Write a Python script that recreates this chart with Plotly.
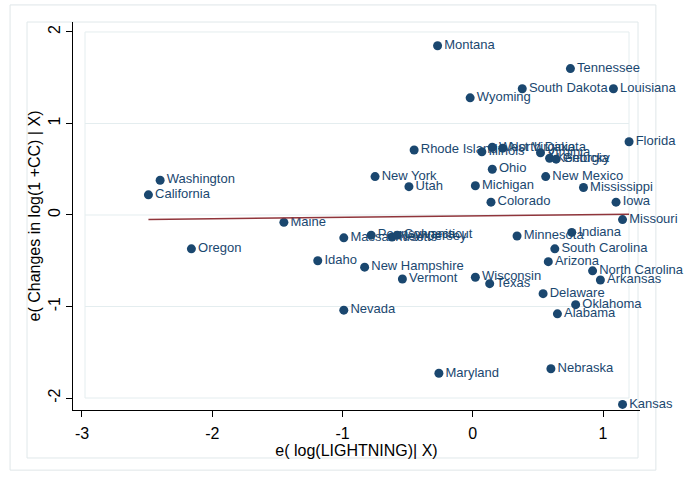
import numpy as np
import plotly.graph_objects as go

states = ["Montana", "Tennessee", "South Dakota", "Louisiana", "Wyoming", "Florida",
          "Washington", "California", "Rhode Island", "Illinois", "West Virginia",
          "North Dakota", "Virginia", "Kentucky", "Georgia", "Ohio", "New Mexico",
          "New York", "Utah", "Michigan", "Mississippi", "Iowa", "Colorado", "Maine",
          "Missouri", "Oregon", "Massachusetts", "Pennsylvania", "New Jersey",
          "Connecticut", "Minnesota", "Indiana", "South Carolina", "Arizona",
          "North Carolina", "Arkansas", "Wisconsin", "Texas", "Idaho", "New Hampshire",
          "Vermont", "Delaware", "Oklahoma", "Alabama", "Nevada", "Maryland",
          "Nebraska", "Kansas"]

x_resid = [-0.27, 0.75, 0.38, 1.08, -0.02, 1.20,
           -2.40, -2.49, -0.45, 0.07, 0.15,
           0.23, 0.52, 0.59, 0.64, 0.15, 0.56,
           -0.75, -0.49, 0.02, 0.85, 1.10, 0.14, -1.45,
           1.15, -2.16, -0.99, -0.78, -0.62,
           -0.58, 0.34, 0.76, 0.63, 0.58,
           0.92, 0.98, 0.02, 0.13, -1.19, -0.83,
           -0.54, 0.54, 0.79, 0.65, -0.99, -0.26,
           0.60, 1.15]

y_resid = [1.85, 1.60, 1.38, 1.38, 1.28, 0.80,
           0.38, 0.22, 0.71, 0.69, 0.74,
           0.73, 0.68, 0.62, 0.61, 0.50, 0.42,
           0.42, 0.31, 0.32, 0.30, 0.14, 0.14, -0.08,
           -0.05, -0.37, -0.25, -0.22, -0.24,
           -0.22, -0.23, -0.19, -0.37, -0.51,
           -0.61, -0.71, -0.68, -0.75, -0.50, -0.57,
           -0.70, -0.86, -0.98, -1.08, -1.04, -1.73,
           -1.68, -2.07]

x_ticks = [-3, -2, -1, 0, 1]
y_ticks = [-2, -1, 0, 1, 2]

navy = "#1a476f"
maroon = "#90353b"
font_family = "Liberation Sans, Arial, sans-serif"

# linear fit
xa = np.array(x_resid)
ya = np.array(y_resid)
slope, intercept = np.polyfit(xa, ya, 1)
fit_x = np.array([xa.min(), xa.max()])
fit_y = intercept + slope * fit_x

fig = go.Figure()

fig.add_trace(go.Scatter(
    x=x_resid, y=y_resid, mode="markers+text", text=states,
    textposition="middle right",
    textfont=dict(family=font_family, size=13, color=navy),
    marker=dict(color=navy, size=9),
    cliponaxis=False, hoverinfo="skip", showlegend=False))

fig.add_trace(go.Scatter(
    x=fit_x, y=fit_y, mode="lines",
    line=dict(color=maroon, width=1.5),
    hoverinfo="skip", showlegend=False))

shapes = []
# outer graph border
shapes.append(dict(type="rect", xref="paper", yref="paper",
                   x0=-0.111, x1=1.028, y0=-0.155, y1=1.044,
                   line=dict(color="#dfe6e8", width=1), layer="below"))
# inner graph region
shapes.append(dict(type="rect", xref="paper", yref="paper",
                   x0=-0.0811, x1=0.9965, y0=-0.1237, y1=1.0,
                   line=dict(color="#e0e8ea", width=1), layer="below"))
# grid lines inside plot region
for yt in y_ticks:
    shapes.append(dict(type="line", xref="paper", yref="y",
                       x0=0.0212, x1=0.9806, y0=yt, y1=yt,
                       line=dict(color="#e4edef", width=1), layer="below"))
# plot region border (vertical sides)
for xp in [0.0212, 0.9806]:
    shapes.append(dict(type="line", xref="paper", yref="y",
                       x0=xp, x1=xp, y0=-2, y1=2,
                       line=dict(color="#e4edef", width=1), layer="below"))

fig.update_layout(
    width=685, height=477, autosize=False,
    paper_bgcolor="white", plot_bgcolor="white",
    margin=dict(l=73, r=45, t=22, b=67, autoexpand=False),
    font=dict(family=font_family, color="black", size=16),
    shapes=shapes,
    xaxis=dict(range=[-3.069, 1.284], tickvals=x_ticks,
               ticktext=[str(v) for v in x_ticks],
               showgrid=False, zeroline=False, automargin=False,
               showline=True, linecolor="black", linewidth=1,
               ticks="outside", ticklen=6, tickcolor="black",
               tickfont=dict(size=16), ticklabelstandoff=3,
               title=dict(text="e( log(LIGHTNING)| X)", font=dict(size=16), standoff=0)),
    yaxis=dict(range=[-2.131, 2.109], tickvals=y_ticks,
               ticktext=[str(v) for v in y_ticks],
               showgrid=False, zeroline=False, automargin=False,
               showline=True, linecolor="black", linewidth=1,
               ticks="outside", ticklen=6, tickcolor="black",
               tickangle=-90, tickfont=dict(size=16), ticklabelstandoff=0,
               title=dict(text="e( Changes in log(1 +CC) | X)", font=dict(size=16), standoff=0)),
)

fig.write_html("out.html", config={"displayModeBar": False},
               post_script="document.body.style.margin='0';document.body.style.overflow='hidden';")
